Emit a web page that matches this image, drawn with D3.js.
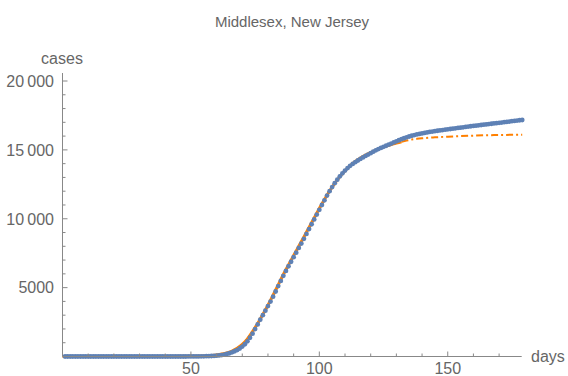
<!DOCTYPE html>
<html><head><meta charset="utf-8">
<script src="https://cdn.jsdelivr.net/npm/d3@7"></script>
<style>
body{margin:0;background:#fff}
svg{display:block}
text{font-family:"Liberation Sans",Arial,sans-serif;fill:#666}
</style>
</head><body>
<svg id="chart" width="568" height="376"></svg>
<script>
const title = "Middlesex, New Jersey";
const xLabel = "days";
const yLabel = "cases";
const xTickValues = [50, 100, 150];
const xTickLabels = ["50", "100", "150"];
const yTickValues = [5000, 10000, 15000, 20000];
const yTickLabels = ["5000", "10\u2009000", "15\u2009000", "20\u2009000"];

// observed cumulative cases, days 1..179
const caseDays = d3.range(1, 180);
const cases = [
  0,0,0,0,0,0,0,0,0,0, 0,0,0,0,0,0,0,0,0,0,
  0,0,0,0,0,0,0,0,0,0, 0,0,0,0,0,0,0,0,0,0,
  0,0,0,0,0,
  0,1,1,2,3,4,6,8,11,15,20,27,35,45,60,80,105,140,180,235,
  300,380,470,580,720,890,1100,1360,1660,1990,2330,2670,3000,3330,3660,3990,4340,4720,5110,5490,
  5860,6210,6550,6880,7210,7540,7880,8200,8540,8900,9250,9600,9950,10300,10650,11000,11340,11680,12000,12300,
  12580,12840,13080,13300,13500,13680,13840,13980,14110,14230,14340,14450,14560,14660,14760,14870,14970,15060,15140,15220,
  15300,15380,15460,15540,15620,15700,15775,15845,15910,15970,16025,16075,16120,16160,16195,16230,16265,16300,16330,16360,
  16390,16415,16440,16465,16490,16515,16540,16565,16590,16615,16640,16665,16690,16715,16740,16760,16785,16805,16830,16850,
  16875,16895,16920,16940,16965,16985,17010,17030,17055,17080,17100,17125,17150,17170
];

// fitted model curve (solid over fitting range, dot-dashed beyond)
const fitDays  = [0,40,50,55,58,60,62,64,66,68,70,72,74,76,78,80,82,84,86,88,90,92,94,96,98,100,102,104,106,108,110,112,114,116,118,120,122,124,126,128,130,132,134,136,138,140,145,150,155,160,165,170,175,179];
const fitCases = [0,2,10,35,75,115,175,260,400,600,880,1280,1800,2400,3050,3720,4450,5200,5950,6650,7330,8000,8680,9370,10060,10740,11400,12010,12560,13060,13490,13860,14160,14410,14620,14800,14980,15140,15270,15390,15490,15590,15680,15750,15800,15840,15910,15960,16000,16030,16060,16080,16095,16105];
const fitEndDay = 132;

const svg = d3.select("#chart");
const x = d3.scaleLinear().domain([0, 178.8]).range([62.5, 521.7]);
const y = d3.scaleLinear().domain([0, 20000]).range([356.5, 81]);
const yTop = 73;

const axisColor = "#888";
const blue = "#5e81b5";
const orange = "#ff8000";

// title
svg.append("text").attr("x", 292).attr("y", 26.5).attr("text-anchor", "middle")
  .attr("font-size", 15).text(title);

// fit curve
const fitData = fitDays.map((d, i) => ({d, c: fitCases[i]}));
const line = d3.line().x(p => x(p.d)).y(p => y(p.c)).curve(d3.curveMonotoneX);
svg.append("path").datum(fitData.filter(p => p.d <= fitEndDay))
  .attr("d", line).attr("fill", "none").attr("stroke", orange).attr("stroke-width", 3);
svg.append("path").datum(fitData.filter(p => p.d >= fitEndDay))
  .attr("d", line).attr("fill", "none").attr("stroke", orange).attr("stroke-width", 2)
  .attr("stroke-dasharray", "7,3,2,3");

// observed points
svg.append("g").selectAll("circle").data(caseDays.map((d, i) => ({d, c: cases[i]})))
  .enter().append("circle")
  .attr("cx", p => x(p.d)).attr("cy", p => y(p.c)).attr("r", 2.4).attr("fill", blue);

// x axis
const gx = svg.append("g");
gx.append("line").attr("x1", x(0)).attr("x2", x(178.8)).attr("y1", 356.5).attr("y2", 356.5)
  .attr("stroke", axisColor).attr("stroke-width", 1);
const xMinor = d3.range(10, 180, 10).filter(v => !xTickValues.includes(v));
gx.selectAll(".xm").data(xMinor).enter().append("line")
  .attr("x1", d => x(d)).attr("x2", d => x(d)).attr("y1", 356.5).attr("y2", 353.5)
  .attr("stroke", axisColor);
gx.selectAll(".xM").data(xTickValues).enter().append("line")
  .attr("x1", d => x(d)).attr("x2", d => x(d)).attr("y1", 356.5).attr("y2", 351.5)
  .attr("stroke", axisColor);
gx.selectAll(".xl").data(xTickValues).enter().append("text")
  .attr("x", d => x(d)).attr("y", 374).attr("text-anchor", "middle")
  .attr("font-size", 16).text((d, i) => xTickLabels[i]);
svg.append("text").attr("x", 531).attr("y", 361.5).attr("font-size", 16).text(xLabel);

// y axis
const gy = svg.append("g");
gy.append("line").attr("x1", 62.5).attr("x2", 62.5).attr("y1", 356.5).attr("y2", yTop)
  .attr("stroke", axisColor);
const yMinor = d3.range(1000, 20001, 1000).filter(v => !yTickValues.includes(v));
gy.selectAll(".ym").data(yMinor).enter().append("line")
  .attr("x1", 62.5).attr("x2", 65.5).attr("y1", d => y(d)).attr("y2", d => y(d))
  .attr("stroke", axisColor);
gy.selectAll(".yM").data(yTickValues).enter().append("line")
  .attr("x1", 62.5).attr("x2", 67.5).attr("y1", d => y(d)).attr("y2", d => y(d))
  .attr("stroke", axisColor);
gy.selectAll(".yl").data(yTickValues).enter().append("text")
  .attr("x", 54).attr("y", d => y(d)).attr("dy", "0.36em").attr("text-anchor", "end")
  .attr("font-size", 16).text((d, i) => yTickLabels[i]);
svg.append("text").attr("x", 62).attr("y", 64).attr("text-anchor", "middle")
  .attr("font-size", 16).text(yLabel);
</script>
</body></html>
